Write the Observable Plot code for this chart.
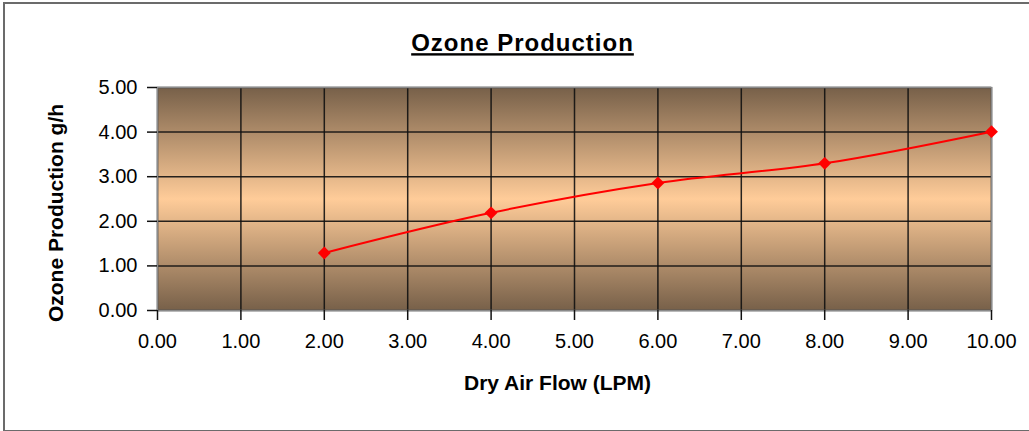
<!DOCTYPE html>
<html>
<head>
<meta charset="utf-8">
<script src="https://cdn.jsdelivr.net/npm/d3@7"></script>
<script src="https://cdn.jsdelivr.net/npm/@observablehq/plot@0.6"></script>
<style>
  html, body { margin: 0; padding: 0; background: #fff; }
  #wrap { position: relative; width: 1029px; height: 431px; overflow: hidden; }
  #border { position: absolute; left: 3px; top: 2px; width: 1040px; height: 426px; border: 2px solid #6b6b6b; pointer-events: none; }
</style>
</head>
<body>
<div id="wrap"><div id="border"></div></div>
<script>
const flow = [2, 4, 6, 8, 10];
const ozone = [1.29, 2.19, 2.86, 3.30, 4.01];
const xTicks = [0, 1, 2, 3, 4, 5, 6, 7, 8, 9, 10];
const yTicks = [0, 1, 2, 3, 4, 5];
const title = "Ozone Production";
const xLabel = "Dry Air Flow (LPM)";
const yLabel = "Ozone Production g/h";

const data = flow.map((x, i) => ({x, y: ozone[i]}));
const fmt = d3.format(".2f");

const chart = Plot.plot({
  width: 1029,
  height: 431,
  marginLeft: 157,
  marginRight: 38,
  marginTop: 87,
  marginBottom: 121,
  style: {fontFamily: "'Liberation Sans', Arial, sans-serif", background: "transparent", color: "#000"},
  x: {domain: [0, 10]},
  y: {domain: [0, 5]},
  marks: [
    Plot.frame({fill: "url(#bgGrad)", stroke: "none"}),
    Plot.gridX(xTicks, {stroke: "#111", strokeOpacity: 0.9, strokeWidth: 1.5}),
    Plot.gridY(yTicks, {stroke: "#111", strokeOpacity: 0.9, strokeWidth: 1.5}),
    Plot.frame({stroke: "#8a8a8a", strokeWidth: 1.5}),
    Plot.axisX({ticks: xTicks, tickFormat: fmt, tickSize: 10, tickPadding: 13, fontSize: 20, label: null, stroke: "#111", strokeWidth: 1.5}),
    Plot.axisY({ticks: yTicks, tickFormat: fmt, tickSize: 10, tickPadding: 10, fontSize: 20, label: null, stroke: "#111", strokeWidth: 1.5}),
    Plot.line(data, {x: "x", y: "y", stroke: "#ff0000", strokeWidth: 2, curve: "catmull-rom"}),
    Plot.dot(data, {x: "x", y: "y", symbol: "diamond2", r: 5.8, fill: "#ff0000", stroke: "none"}),
    Plot.text([title], {text: d => d, frameAnchor: "top", dx: -52, dy: -44, fontSize: 24, fontWeight: "bold", lineAnchor: "middle", fill: "#000", className: "chart-title"}),
    Plot.text([xLabel], {text: d => d, frameAnchor: "bottom", dx: -17, dy: 73, fontSize: 21, fontWeight: "bold", lineAnchor: "middle", fill: "#000"}),
    Plot.text([yLabel], {text: d => d, frameAnchor: "left", textAnchor: "middle", rotate: -90, dx: -101, dy: 14, fontSize: 21, fontWeight: "bold", lineAnchor: "middle", fill: "#000"})
  ]
});

// gradient definition for the plot background
const ns = "http://www.w3.org/2000/svg";
const defs = document.createElementNS(ns, "defs");
const grad = document.createElementNS(ns, "linearGradient");
grad.setAttribute("id", "bgGrad");
grad.setAttribute("x1", "0"); grad.setAttribute("y1", "0");
grad.setAttribute("x2", "0"); grad.setAttribute("y2", "1");
[["0%", "#776049"], ["50%", "#ffcc99"], ["100%", "#776049"]].forEach(([o, c]) => {
  const s = document.createElementNS(ns, "stop");
  s.setAttribute("offset", o);
  s.setAttribute("stop-color", c);
  grad.appendChild(s);
});
defs.appendChild(grad);
chart.insertBefore(defs, chart.firstChild);

const t = chart.querySelector(".chart-title text");
if (t) { t.style.textDecoration = "underline"; t.setAttribute("letter-spacing", "1"); }

document.getElementById("wrap").insertBefore(chart, document.getElementById("border"));
</script>
</body>
</html>
